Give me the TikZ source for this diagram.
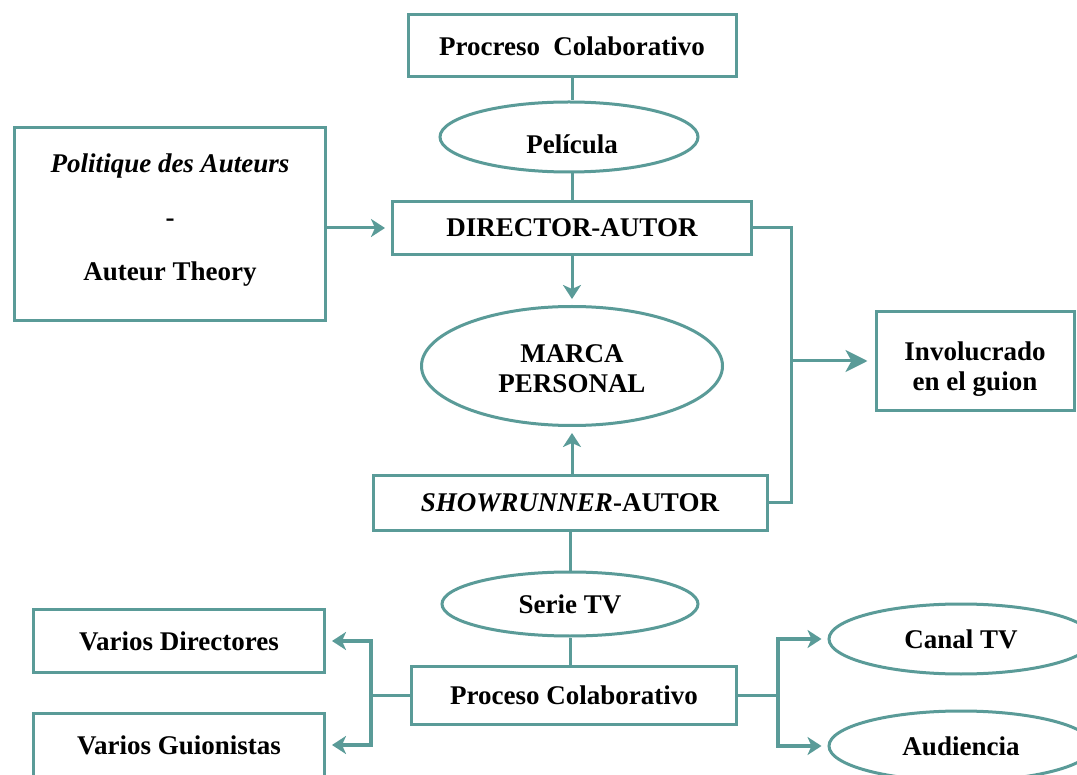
\documentclass[tikz,border=0pt]{standalone}
\usepackage{fontspec}
\setmainfont{Liberation Serif}
\usetikzlibrary{arrows.meta,shapes.geometric}
\definecolor{tealline}{RGB}{90,155,152}
\newcommand{\lowerby}[2]{\raisebox{-#1}[\height][\depth]{#2}}
\begin{document}
\begin{tikzpicture}[x=1pt,y=-1pt,line width=3pt,
  box/.style={draw=tealline,rectangle,inner sep=0pt,align=center,
    font=\fontsize{27}{30}\selectfont\bfseries},
  oval/.style={draw=tealline,ellipse,inner sep=0pt,align=center,
    font=\fontsize{27}{30}\selectfont\bfseries},
  conn/.style={draw=tealline,line width=3pt},
  arr/.style={conn,shorten >=6pt,-{Stealth[length=14pt,width=18pt,inset=4pt]}},
  bigarr/.style={conn,shorten >=7pt,-{Stealth[length=22pt,width=22pt,inset=6pt]}},
  brarr/.style={arr,line width=4pt}]
\useasboundingbox (0,0) rectangle (1077,775);
\clip (0,0) rectangle (1077,775);
\fill[white] (0,0) rectangle (1077,775);

\node[box,minimum width=328pt,minimum height=62pt] (top) at (572,46) {Procreso\ \ Colaborativo};
\node[oval,minimum width=258pt,minimum height=70pt] (pel) at (569,137) {\hspace*{6pt}\lowerby{7pt}{Película}};
\node[box,minimum width=359pt,minimum height=53pt] (dir) at (572,228) {DIRECTOR-AUTOR};
\node[box,minimum width=311pt,minimum height=193pt] (pol) at (170,224)
  {\lowerby{-4pt}{\textit{Politique des Auteurs}}\\[24pt]\lowerby{-4pt}{-}\\[24pt]\lowerby{-4pt}{Auteur Theory}};
\node[oval,minimum width=301pt,minimum height=119pt] (marca) at (572,366) {\lowerby{3pt}{MARCA}\\\lowerby{3pt}{PERSONAL}};
\node[box,minimum width=394pt,minimum height=55pt] (show) at (570,503) {\textit{SHOWRUNNER}-AUTOR};
\node[box,minimum width=198pt,minimum height=99pt] (inv) at (975,361) {\lowerby{8pt}{Involucrado}\\\lowerby{8pt}{en el guion}};
\node[oval,minimum width=256pt,minimum height=64pt] (serie) at (570,604) {Serie TV};
\node[box,minimum width=325pt,minimum height=58pt] (proc) at (574,695) {Proceso Colaborativo};
\node[box,minimum width=291pt,minimum height=63pt] (vd) at (179,641) {Varios Directores};
\node[box,minimum width=291pt,minimum height=63pt] (vg) at (179,745) {Varios Guionistas};
\node[oval,minimum width=264pt,minimum height=70pt] (canal) at (961,639) {Canal TV};
\node[oval,minimum width=264pt,minimum height=70pt] (aud) at (961,746) {Audiencia};

\coordinate (rj) at (791,361);
\coordinate (lj) at (371,695);
\coordinate (rj2) at (778,695);

\draw[conn] (top.south -| dir.north) -- (dir.north |- pel.north);
\draw[conn] (dir.north |- pel.south) -- (dir.north);
\draw[arr] (pol.east |- dir.west) -- (dir.west);
\draw[arr] (dir.south) -- (marca.north);
\draw[arr] (show.north -| marca.south) -- (marca.south);
\draw[conn] (dir.east) -| (rj) |- (show.east);
\draw[bigarr] (rj) -- (inv.west);
\draw[conn] (show.south) -- (show.south |- serie.north);
\draw[conn] (serie.south) -- (serie.south |- proc.north);
\draw[conn] (proc.west) -- (lj);
\draw[brarr] (lj) |- (vd.east);
\draw[brarr] (lj) |- (vg.east);
\draw[conn] (proc.east) -- (rj2);
\draw[brarr] (rj2) |- (canal.west);
\draw[brarr] (rj2) |- (aud.west);
\end{tikzpicture}
\end{document}
